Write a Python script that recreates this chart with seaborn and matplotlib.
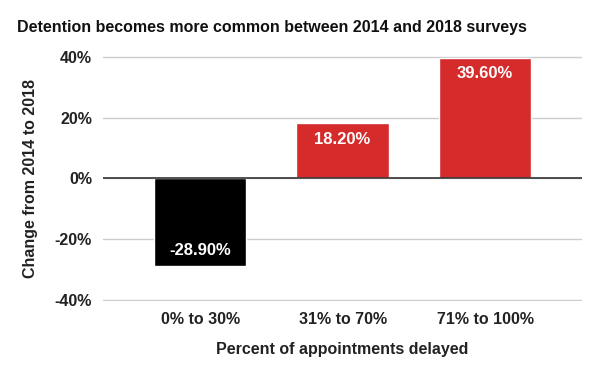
import matplotlib
matplotlib.use("Agg")
import matplotlib.pyplot as plt
import seaborn as sns
from matplotlib.ticker import FuncFormatter

categories = ["0% to 30%", "31% to 70%", "71% to 100%"]
changes = [-28.9, 18.2, 39.6]
bar_colors = ["#000000", "#d62b2b", "#d62b2b"]

sns.set_theme(style="white")
plt.rcParams["font.family"] = ["Liberation Sans", "DejaVu Sans"]

fig = plt.figure(figsize=(6, 3.71), dpi=100)
ax = fig.add_axes([0.172, 0.189, 0.798, 0.66])

sns.barplot(x=categories, y=changes, hue=categories, palette=bar_colors,
            saturation=1, width=0.65, legend=False, ax=ax, zorder=3)

ax.set_ylim(-40.2, 40.2)
ax.set_xlim(-0.68, 2.68)
ax.set_yticks([-40, -20, 0, 20, 40])
ax.yaxis.set_major_formatter(FuncFormatter(lambda v, p: f"{v:.0f}%"))
ax.grid(axis="y", color="#cccccc", linewidth=1, zorder=0)
ax.axhline(0, color="#333333", linewidth=1.2, zorder=4)
sns.despine(ax=ax, left=True, bottom=True)
ax.tick_params(length=0, labelsize=11.5, pad=8)
for lab in ax.get_xticklabels() + ax.get_yticklabels():
    lab.set_fontweight("bold")
    lab.set_color("#222222")

for cont in ax.containers:
    ax.bar_label(cont, labels=[f"{v:.2f}%" for v in cont.datavalues],
                 padding=-17, color="white", fontsize=12, fontweight="bold")

ax.set_xlabel("Percent of appointments delayed", fontsize=11.5, fontweight="bold",
              color="#222222", labelpad=11)
ax.set_ylabel("Change from 2014 to 2018", fontsize=11.5, fontweight="bold",
              color="#222222", labelpad=12)
fig.text(0.028, 0.925, "Detention becomes more common between 2014 and 2018 surveys",
         fontsize=11.5, fontweight="bold", color="#111111", va="center")

fig.savefig("out.png", dpi=100)
